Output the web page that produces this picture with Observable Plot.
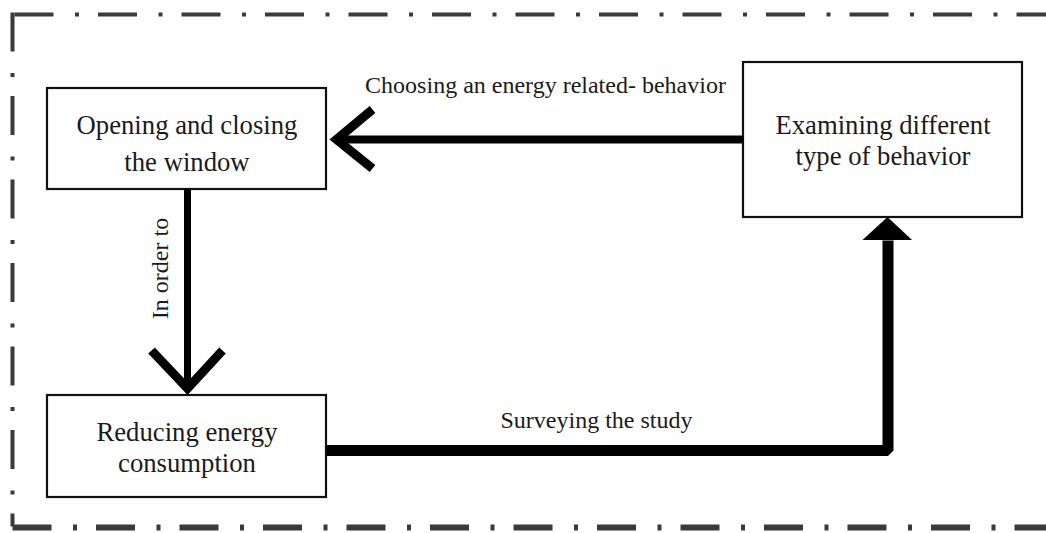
<!DOCTYPE html>
<html>
<head>
<meta charset="utf-8">
<script src="https://cdn.jsdelivr.net/npm/d3@7"></script>
<script src="https://cdn.jsdelivr.net/npm/@observablehq/plot@0.6"></script>
<style>
  html, body { margin: 0; padding: 0; background: #fff; }
  #chart svg { display: block; }
</style>
</head>
<body>
<div id="chart"></div>
<script>
// ---- diagram data ----
const W = 1046, H = 533;

// process boxes: id, label lines, left, right, top, bottom, text centre y, line height (em)
const boxIds    = ["open", "reduce", "examine"];
const boxLabels = ["Opening and closing\nthe window", "Reducing energy\nconsumption", "Examining different\ntype of behavior"];
const boxLeft   = [47, 47, 743];
const boxRight  = [326, 326, 1022];
const boxTop    = [88, 395, 62];
const boxBottom = [189, 497, 217];
const boxTextY  = [140, 446, 139];
const boxLineH  = [1.4, 1.17, 1.17];

// arrow labels
const edgeLabels = ["Choosing an energy related- behavior", "In order to", "Surveying the study"];
const edgeLabelX = [545, 160, 596];
const edgeLabelY = [85, 268, 420];
const edgeLabelRotate = [0, -90, 0];

// dash-dot frame (open on the right)
const frameSides = ["top", "left", "bottom"];
const frameX1 = [14, 12, 12];
const frameY1 = [14, 12, 527];
const frameX2 = [1046, 12, 1046];
const frameY2 = [14, 526, 527];
const frameWidth = [4, 4, 6];

// ---- build tables ----
const boxes = boxIds.map((id, i) => ({
  id, label: boxLabels[i], x1: boxLeft[i], x2: boxRight[i], y1: boxTop[i], y2: boxBottom[i],
  cx: (boxLeft[i] + boxRight[i]) / 2, cy: boxTextY[i], lh: boxLineH[i]
}));
const B = Object.fromEntries(boxes.map(b => [b.id, b]));

const frame = frameSides.flatMap((s, i) => [
  {side: s, x: frameX1[i], y: frameY1[i], w: frameWidth[i]},
  {side: s, x: frameX2[i], y: frameY2[i], w: frameWidth[i]}
]);

// arrow 1: examine -> open (open chevron), y at 139
const a1y = 139;
const a1Tip = B.open.x2 + 10;
const arrow1Shaft = [{x: B.examine.x1, y: a1y}, {x: a1Tip, y: a1y}];
const arrow1Head = [{x: a1Tip + 36, y: a1y - 30}, {x: a1Tip, y: a1y}, {x: a1Tip + 36, y: a1y + 29}];

// arrow 2: open -> reduce (open chevron), x at 187
const a2x = 187;
const a2Tip = B.reduce.y1 - 7;
const arrow2Shaft = [{x: a2x, y: B.open.y2}, {x: a2x, y: a2Tip}];
const arrow2Head = [{x: a2x - 36, y: a2Tip - 38}, {x: a2x, y: a2Tip}, {x: a2x + 35, y: a2Tip - 38}];

// arrow 3: reduce -> examine (elbow with filled head)
const a3y = 450, a3x = 887.5;
const headBase = B.examine.y2 + 23;
const arrow3Shaft = [{x: B.reduce.x2, y: a3y}, {x: a3x, y: a3y}, {x: a3x, y: headBase}];
const arrow3Head = [
  {y: B.examine.y2, x1: a3x, x2: a3x},
  {y: headBase, x1: a3x - 25, x2: a3x + 24.5}
];

const labels = edgeLabels.map((t, i) => ({text: t, x: edgeLabelX[i], y: edgeLabelY[i], r: edgeLabelRotate[i]}));

const font = "'Liberation Serif', 'Times New Roman', serif";
const ink = "#111";

const chart = Plot.plot({
  width: W, height: H, margin: 0,
  x: {domain: [0, W], range: [0, W], axis: null},
  y: {domain: [0, H], range: [0, H], axis: null},
  style: {background: "#fff", fontFamily: font},
  marks: [
    // frame
    Plot.line(frame, {x: "x", y: "y", z: "side", stroke: "#3a3a3a", strokeWidth: d => d.w,
      strokeDasharray: "39,21.5,4,19", strokeLinecap: "butt"}),
    // boxes
    Plot.rect(boxes, {x1: "x1", x2: "x2", y1: "y1", y2: "y2", fill: "#fff", stroke: ink, strokeWidth: 2.2}),
    // arrow 1
    Plot.line(arrow1Shaft, {x: "x", y: "y", stroke: "#000", strokeWidth: 8, strokeLinecap: "butt"}),
    Plot.line(arrow1Head, {x: "x", y: "y", stroke: "#000", strokeWidth: 9, strokeLinecap: "butt", strokeLinejoin: "miter", strokeMiterlimit: 10}),
    // arrow 2
    Plot.line(arrow2Shaft, {x: "x", y: "y", stroke: "#000", strokeWidth: 7, strokeLinecap: "butt"}),
    Plot.line(arrow2Head, {x: "x", y: "y", stroke: "#000", strokeWidth: 9, strokeLinecap: "butt", strokeLinejoin: "miter", strokeMiterlimit: 10}),
    // arrow 3
    Plot.line(arrow3Shaft, {x: "x", y: "y", stroke: "#000", strokeWidth: 11, strokeLinecap: "butt", strokeLinejoin: "miter"}),
    Plot.areaX(arrow3Head, {y: "y", x1: "x1", x2: "x2", fill: "#000"}),
    // box texts
    ...boxes.map(b => Plot.text([b], {x: "cx", y: "cy", text: "label", fontSize: 26.7, lineHeight: b.lh,
      fill: "#1a1a1a", textAnchor: "middle", fontFamily: font})),
    // edge labels
    ...labels.map(l => Plot.text([l], {x: "x", y: "y", text: "text", rotate: l.r, fontSize: 24,
      fill: "#1a1a1a", textAnchor: "middle", fontFamily: font}))
  ]
});
document.getElementById("chart").appendChild(chart);
</script>
</body>
</html>
